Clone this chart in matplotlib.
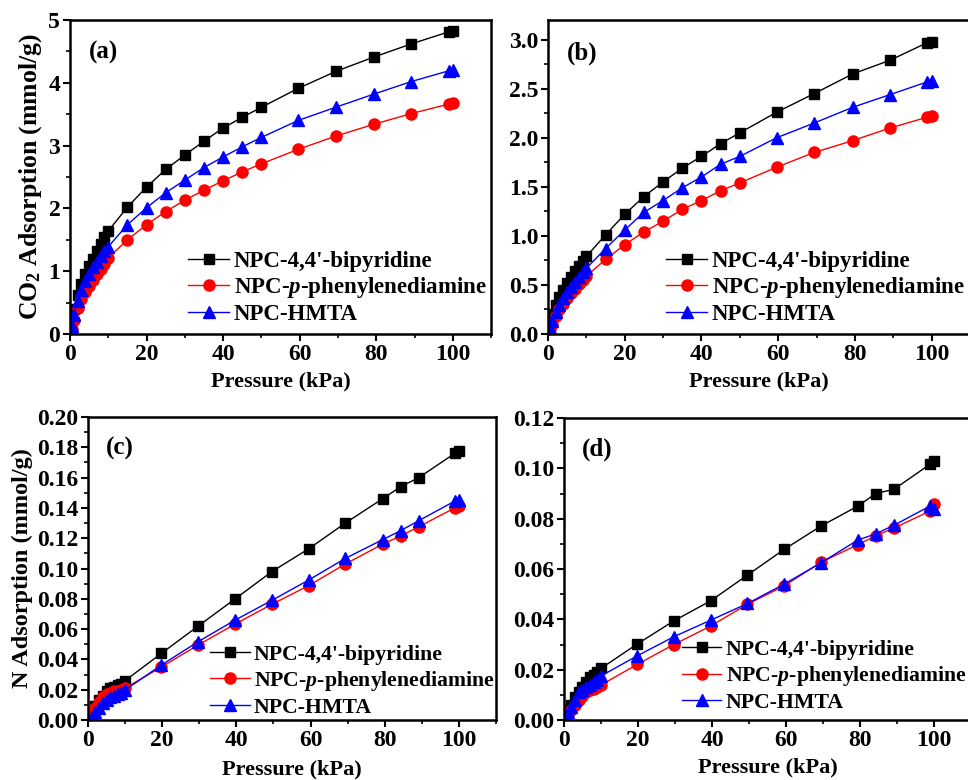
import matplotlib
matplotlib.use("Agg")
import matplotlib.pyplot as plt
from matplotlib.ticker import MultipleLocator, FormatStrFormatter

# ==========================================
# DATA
# ==========================================

# CO2 panels (a), (b)
p_co2 = [0.5, 1, 2, 3, 4, 5, 6, 7, 8, 9, 10, 15, 20, 25, 30, 35, 40, 45, 50,
         59.6, 69.4, 79.4, 89.2, 98.9, 100]

a_bipy = [0.22, 0.40, 0.62, 0.80, 0.95, 1.08, 1.20, 1.32, 1.44, 1.55, 1.64, 2.02, 2.34,
          2.62, 2.85, 3.07, 3.28, 3.45, 3.61, 3.91, 4.18, 4.41, 4.62, 4.81, 4.83]
a_ppd = [0.08, 0.22, 0.42, 0.56, 0.67, 0.77, 0.86, 0.95, 1.03, 1.12, 1.21, 1.50, 1.74,
         1.95, 2.13, 2.29, 2.44, 2.58, 2.71, 2.94, 3.15, 3.34, 3.51, 3.66, 3.68]
a_hmta = [0.12, 0.30, 0.53, 0.70, 0.84, 0.96, 1.06, 1.15, 1.24, 1.32, 1.39, 1.74, 2.01,
          2.25, 2.45, 2.65, 2.82, 2.98, 3.13, 3.40, 3.61, 3.82, 4.02, 4.19, 4.21]

b_bipy = [0.10, 0.20, 0.30, 0.38, 0.45, 0.52, 0.58, 0.64, 0.69, 0.74, 0.79, 1.01, 1.22,
          1.40, 1.55, 1.69, 1.81, 1.94, 2.05, 2.26, 2.45, 2.65, 2.79, 2.97, 2.98]
b_ppd = [0.05, 0.10, 0.18, 0.25, 0.31, 0.37, 0.42, 0.46, 0.51, 0.55, 0.59, 0.76, 0.91,
         1.04, 1.15, 1.27, 1.36, 1.46, 1.54, 1.70, 1.85, 1.97, 2.10, 2.21, 2.22]
b_hmta = [0.06, 0.13, 0.22, 0.30, 0.37, 0.43, 0.48, 0.53, 0.58, 0.63, 0.67, 0.87, 1.06,
          1.24, 1.36, 1.49, 1.60, 1.73, 1.81, 2.00, 2.15, 2.31, 2.44, 2.57, 2.58]

# N2 panels (c), (d)
p_n2 = [1, 2, 3, 4, 5, 6, 7, 8, 9, 10, 19.8, 29.7, 39.7, 49.6, 59.5, 69.4, 79.4,
        84.3, 89.2, 98.9, 100]

c_bipy = [0.005, 0.009, 0.013, 0.016, 0.019, 0.021, 0.022, 0.023, 0.024, 0.026, 0.044,
          0.062, 0.080, 0.098, 0.113, 0.130, 0.146, 0.154, 0.160, 0.176, 0.1776]
c_ppd = [0.004, 0.008, 0.012, 0.015, 0.017, 0.018, 0.019, 0.019, 0.020, 0.021, 0.035,
         0.0495, 0.0634, 0.0764, 0.0887, 0.103, 0.116, 0.1215, 0.1276, 0.140, 0.1415]
c_hmta = [0.002, 0.005, 0.008, 0.011, 0.013, 0.015, 0.016, 0.017, 0.018, 0.0198, 0.0363,
          0.0517, 0.066, 0.079, 0.0924, 0.1067, 0.119, 0.125, 0.1316, 0.1445, 0.145]

d_bipy = [0.004, 0.006, 0.009, 0.011, 0.013, 0.015, 0.017, 0.018, 0.019, 0.0205, 0.0302,
          0.0394, 0.0474, 0.0576, 0.0678, 0.077, 0.085, 0.090, 0.0917, 0.1016, 0.1028]
d_ppd = [0.0025, 0.004, 0.006, 0.008, 0.0095, 0.011, 0.012, 0.0125, 0.013, 0.0139, 0.0221,
         0.030, 0.0374, 0.046, 0.0533, 0.0626, 0.0697, 0.0732, 0.0763, 0.083, 0.086]
d_hmta = [0.003, 0.005, 0.008, 0.011, 0.012, 0.013, 0.014, 0.015, 0.016, 0.0175, 0.0255,
          0.0331, 0.0397, 0.0463, 0.054, 0.0624, 0.0715, 0.074, 0.0774, 0.085, 0.084]

labels = ["NPC-4,4'-bipyridine", "NPC-$\\mathit{p}$-phenylenediamine", "NPC-HMTA"]

# ==========================================
# STYLE
# ==========================================

plt.rcParams["font.family"] = "Liberation Serif"
plt.rcParams["font.weight"] = "bold"
plt.rcParams["mathtext.fontset"] = "custom"
plt.rcParams["mathtext.rm"] = "Liberation Serif:bold"
plt.rcParams["mathtext.bf"] = "Liberation Serif:bold"
plt.rcParams["mathtext.it"] = "Liberation Serif:bold:italic"

fig = plt.figure(figsize=(9.68, 7.8), dpi=100)

ax_a = fig.add_axes([0.0723, 0.5718, 0.435, 0.4026])
ax_b = fig.add_axes([0.5661, 0.5718, 0.436, 0.4026])
ax_c = fig.add_axes([0.0909, 0.0769, 0.4215, 0.3885])
ax_d = fig.add_axes([0.5826, 0.0769, 0.4205, 0.3872])


def draw(ax, p, ys, ylim, ymaj, fmt, tag, leg_xy, leg_fs, leg_sp, xpad):
    ax.plot(p, ys[0], "-s", color="black", mfc="black", mec="black", ms=7.5, lw=1,
            label=labels[0])
    ax.plot(p, ys[1], "-o", color="red", mfc="red", mec="red", ms=8, lw=1,
            label=labels[1])
    ax.plot(p, ys[2], "-^", color="blue", mfc="blue", mec="blue", ms=8.5, lw=1,
            label=labels[2])
    ax.set_xlim(0, 110)
    ax.set_ylim(0, ylim)
    ax.xaxis.set_major_locator(MultipleLocator(20))
    ax.xaxis.set_minor_locator(MultipleLocator(10))
    ax.yaxis.set_major_locator(MultipleLocator(ymaj))
    ax.yaxis.set_minor_locator(MultipleLocator(ymaj / 2))
    ax.yaxis.set_major_formatter(FormatStrFormatter(fmt))
    ax.set_xticks([0, 20, 40, 60, 80, 100])
    ax.tick_params(which="major", direction="out", length=5, width=1.5,
                   labelsize=17, pad=2)
    ax.tick_params(which="minor", direction="out", length=3, width=1.2)
    for s in ax.spines.values():
        s.set_linewidth(1.8)
    ax.set_xlabel("Pressure (kPa)", fontsize=16, fontweight="bold", labelpad=xpad)
    ax.text(0.045, 0.895, tag, transform=ax.transAxes, fontsize=18,
            fontweight="bold", va="center", ha="left")
    ax.legend(loc="upper left", bbox_to_anchor=leg_xy, frameon=False,
              fontsize=leg_fs, handlelength=1.8, handletextpad=0.2,
              labelspacing=leg_sp, borderpad=0, borderaxespad=0)


draw(ax_a, p_co2, [a_bipy, a_ppd, a_hmta], 5, 1, "%d", "(a)",
     (0.28, 0.265), 16.5, 0.15, 5)
draw(ax_b, p_co2, [b_bipy, b_ppd, b_hmta], 3.2, 0.5, "%.1f", "(b)",
     (0.28, 0.265), 16.5, 0.15, 5)
draw(ax_c, p_n2, [c_bipy, c_ppd, c_hmta], 0.2, 0.02, "%.2f", "(c)",
     (0.30, 0.25), 15.7, 0.2, 6)
draw(ax_d, p_n2, [d_bipy, d_ppd, d_hmta], 0.12, 0.02, "%.2f", "(d)",
     (0.29, 0.266), 15.7, 0.2, 5)

ax_a.set_ylabel("CO$_2$ Adsorption (mmol/g)", fontsize=18.5, fontweight="bold",
                labelpad=3)
ax_c.set_ylabel("N Adsorption (mmol/g)", fontsize=17.5, fontweight="bold",
                labelpad=3)

fig.savefig("out.png", dpi=100)
